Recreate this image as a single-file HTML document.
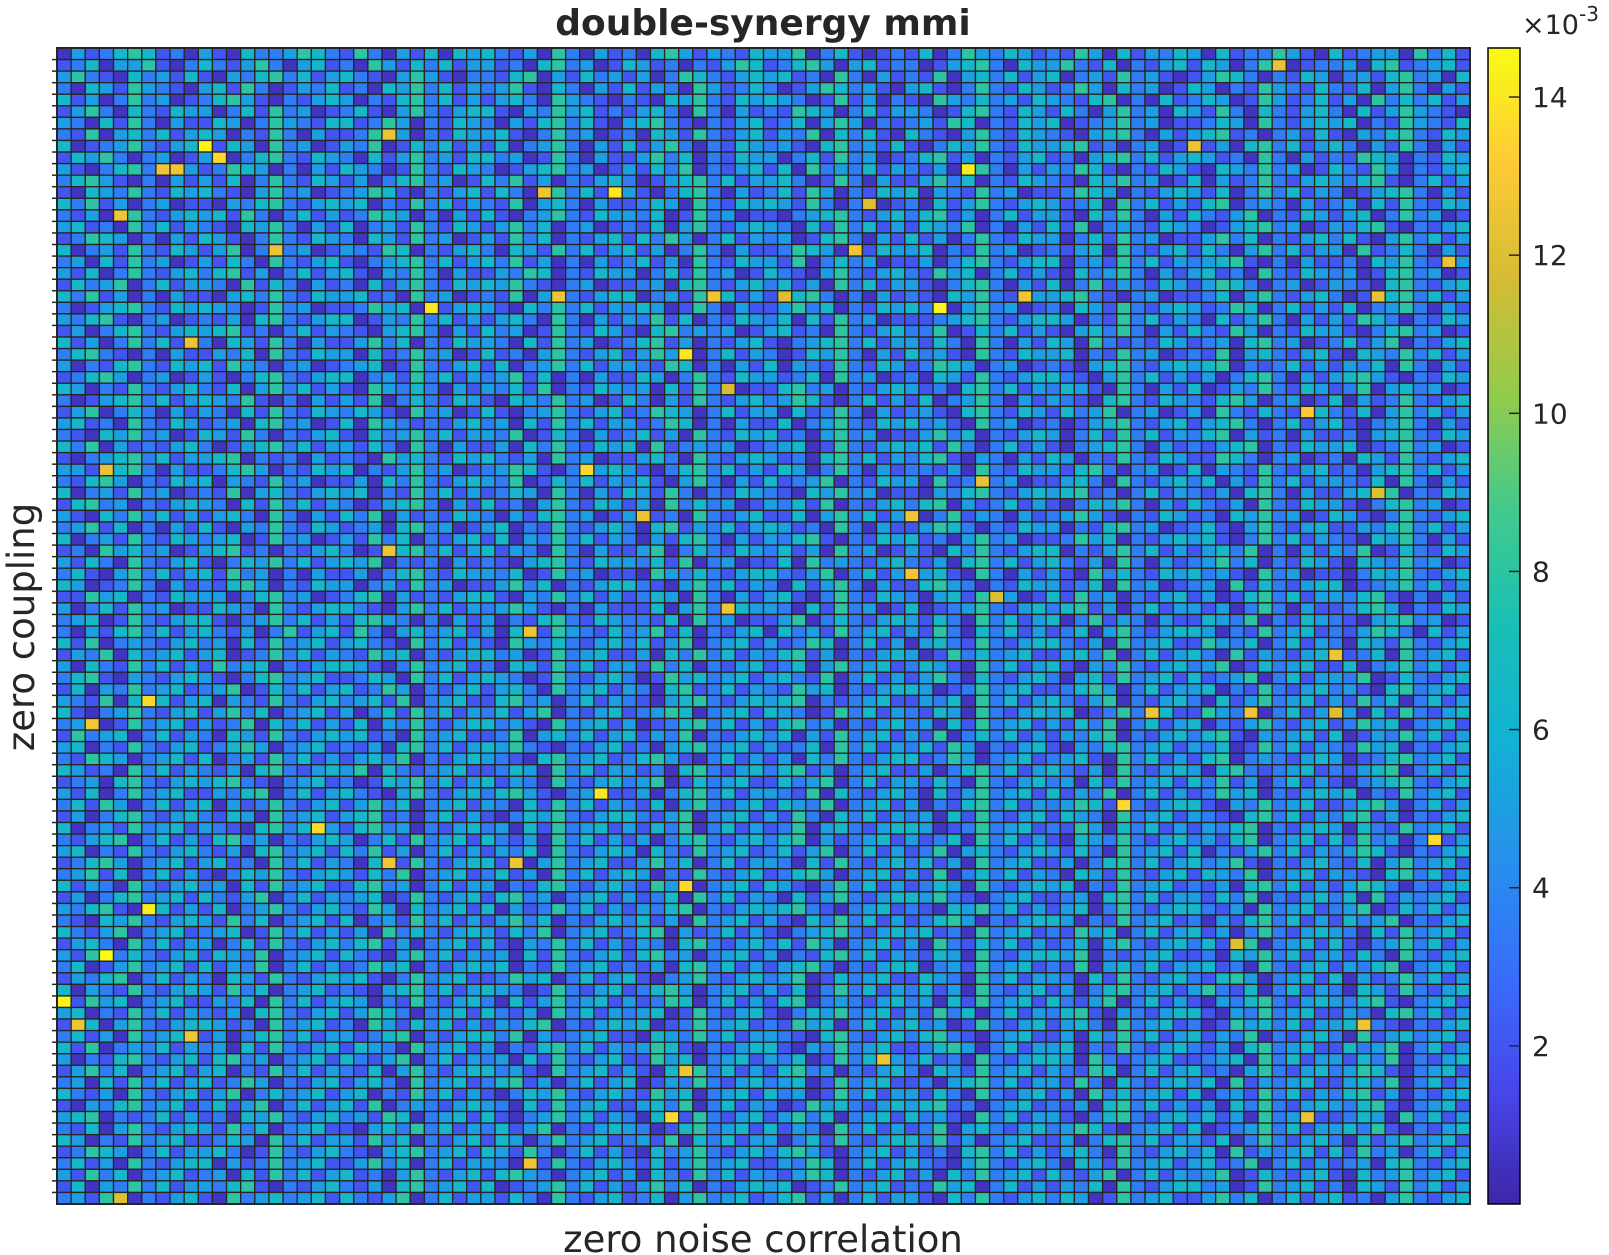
<!DOCTYPE html>
<html><head><meta charset="utf-8"><style>
html,body{margin:0;padding:0;background:#fff;}
svg{display:block;font-family:"DejaVu Sans","Liberation Sans",sans-serif;}
</style></head><body>
<svg id="chart" width="1609" height="1255" viewBox="0 0 1609 1255" xmlns="http://www.w3.org/2000/svg">
<defs><linearGradient id="parula" x1="0" y1="1" x2="0" y2="0"></linearGradient></defs>
<text x="763" y="35" text-anchor="middle" font-size="36" font-weight="bold" fill="#262626">double-synergy mmi</text>
<g id="cells"></g>
<g id="yticks"></g>
<text x="763" y="1252" text-anchor="middle" font-size="37" fill="#262626">zero noise correlation</text>
<text transform="translate(34,627) rotate(-90)" text-anchor="middle" font-size="37" fill="#262626">zero coupling</text>
<rect x="1488" y="48" width="32" height="1156" fill="url(#parula)" stroke="#000" stroke-width="1.5"/>
<g id="cbticks"></g>
<text x="1522" y="34" font-size="27" fill="#262626">×10<tspan dy="-13" font-size="20">-3</tspan></text>
</svg>
<script>
const rowsData = [
"0312454120 3104223542 1520314043 4213052031 2045313214 3350241012 1402532431 2153041324 3041225310 4123305241",
"1240335102 4213520341 2053142413 3120452301 4312021354 1245303412 2013452043 3521402134 1430253012 2304512341",
"3521042314 1032452413 4210353102 2145031423 1302542134 3412052031 2150342413 4023152310 1354202143 0231452304",
"2043153210 3415201324 1204352413 2351042031 4132053124 2013542310 3410252143 1253042301 4302153214 2140352031",
"4130252301 2453102134 3021452413 1342053210 2104352143 4320151302 1053242314 3214502041 2430153124 1305242413",
"1352042143 3024152301 2410352134 4103253412 1342052031 2154302413 3201452143 1420352304 3152042134 2041353210",
"3204152031 1430253214 4125302143 2031452410 3452102134 1240353021 2315402143 4012352301 1243052134 3402153214",
"2150342413 4302152031 1254302143 3410252301 2043152134 1325042410 4210352143 2103452031 3451202314 1032452143",
"4012352134 2143052301 3250142413 1402352031 4135202143 2310452314 1024352143 3451202301 2130452413 4203152031",
"1435202301 3102452143 2041352314 4230152031 1352402143 3024152301 2451302134 1203452413 4312052031 2154302143",
"3102452413 1254302031 4320152143 2013452301 3142502134 1405232413 2130452031 3254102143 1043252301 4215302134",
"2453102031 3140252143 1302452301 4251302134 2013452413 3420152031 1352402143 2104352301 4031252134 3245102413",
"1043252143 4210352301 2354102134 1420352413 3102452031 2415302143 4032152301 1254302134 3140252413 2013452031",
"4251302301 1032452134 3402152413 2150342031 1243052143 4315202301 2041352134 3124052413 1450232031 2304152143",
"2130452134 3415202413 1254302031 4102352143 3240152301 1023452134 2451302413 3104252031 4213502143 1340252301",
"3412052413 2104352031 4023152143 1352402301 2140352134 3204152413 1432502031 4150232143 2013452301 3245102134",
"1254302031 4310252143 2043152301 3152402134 1425302413 2301452031 4130252143 3024152301 1352402134 2410352413",
"4023152143 1350242301 3215402134 2043152413 4130252031 1254302143 3402152301 2134052134 1420352413 3051242031",
"2304152301 3142052134 1023452413 4251302031 2413052143 3150242301 1302452134 4023152413 2345102031 1204352143",
"3140252134 2451302413 4103252031 1325402143 3024152301 4210352134 2153402413 1042352031 3412052143 2301452301",
"1423502413 3205142031 2041352143 4352102301 1230452134 2413052413 3102452031 4025132143 1354202301 3210452134",
"4251302031 1034252143 3412052301 2150342134 4023152413 1345202031 2104352143 3452102301 1240352134 2013452413",
"2013452143 4320152301 1253402134 3104252413 2430152031 1352402143 4210352301 2043152134 3125402413 1402352031",
"3245102301 2130452134 4013252413 1342052031 3251402143 2404152301 1123452134 4302152413 2041352031 3154202143",
"1302452134 3451202413 2103452031 4230152143 1045232301 3412052134 2250142413 1034252031 4215302143 3102452301",
"4130252413 2043152031 1352402143 3204152301 2451302134 1023452413 3142052031 4305212143 1230452301 2413502134",
"2452102031 1324052143 3041252301 4120352134 1353202413 2014352031 4231052143 3402152301 2150342134 1043252413",
"3021452143 4153202301 2340152134 1402352413 3215402031 4032152143 1254302301 2103452134 3450212413 1324052031",
"1245302301 3102452134 4023152413 2351402031 1430252143 3124052301 2043152134 4210352413 1302452031 3453102143",
"4302152134 2140352413 1053242031 3241502143 2304152301 1452302134 3120452413 2431052031 4013252143 1250342301",
"2013452413 4325102031 3150242143 1043252301 4203152134 2354102413 1402352031 3210452143 2145302301 4031252134",
"1350242031 3204152143 2431052301 4102352134 1254302413 3041252031 2310452143 1423502301 3052142134 2140352413",
"3412052143 1230452301 4053212134 2304152413 3125402031 1402352143 4231052301 2013452134 1345202413 4102352031",
"2104352301 4315202134 1042352413 3250142031 2413052143 4120352301 1352402134 3024152413 2450312031 1203452143",
"4250312134 2013452413 3142052031 1304252143 4051232301 2340152134 3415202413 1023452031 2134502143 3401252301",
"1023452413 3450212031 2105342143 4213052301 1342052134 3120452413 2451032031 4302152143 1154202301 2043152134",
"3310452031 1245302143 4021352301 2354102134 3102452413 1430252031 2213052143 3145202301 4032152134 1203452413",
"2145302143 4032152301 1304252134 3250142413 2410352031 4123502143 3051242301 1342052134 2403152413 3214052031",
"4023152301 2150342134 3402152413 1243052031 4315202143 2104352301 1032452134 3451202413 2130452031 1342502143",
"1452302134 3204152413 2013452031 4120352143 1305242301 3241502134 2450312413 1024352031 4213052143 3102452301",
"3104252413 1342052031 4250312143 2031452301 3412052134 1140352413 4025132031 2353102143 1204352301 4310252134",
"2351402031 4103252143 1230452301 3402152134 2045132413 4312052031 1354202143 3021452301 2410352134 1132452413",
"4023152143 2340152301 3152402134 1403252413 2031452031 3245102143 4120352301 1253402134 3410252413 2104352031",
"1205342301 3451202134 2013452413 4132052031 1350242143 2413052301 3104252134 4021352413 1342502031 3250142143",
"3142052134 1024352413 4350212031 2103452143 3241502301 1405232134 2130452413 4213052031 2352402143 1043252301",
"2410352413 4152302031 1302452143 3240152301 1053242134 4213502413 2341052031 3105242143 4231052301 1024352134",
"4301252031 2145302143 3023152301 1352402134 4210352413 2041352031 1453202143 3124052301 2305142134 4012352413",
"1153402143 3302452301 2450312134 4103252413 1243052031 3410252143 2034152301 4152302134 1301452413 3245102031",
"3024152301 1432052134 4210352413 2353102031 1140352143 3204152301 4012352134 2451302413 3130252031 1245302143",
"2340152134 4102352413 1453202031 3021452143 2214052301 1350242134 3142052413 4025132031 1432502143 2103452301"
];
const rowsData2 = [
"2031452413 4213025134 1520342341 3042153214 2351402134 0423152341 3152042413 1240352134 4302152341 2135420413",
"4150232134 2304152341 3421052413 1053242134 2413502341 3125402413 0342152134 4213052341 1532402413 2043152134",
"1325042341 3401252413 2153402134 4230152341 1304252413 2451302134 3015242341 1342502413 4205132134 3124052341",
"3042152413 1523402134 4310252341 2043152413 3152402134 1240352341 2431052413 4103252134 2350142341 1402352413",
"2451032134 3102452341 1243052413 4320152134 2015342341 3421502413 1352042134 2034152341 4123502413 3250142134",
"1403252341 2350142413 4125302134 1342052341 3204512413 2153402134 4301252341 1245302413 3402152134 2310452341",
"3215042413 4032152134 2341502341 1452302413 2103452134 3450212341 1324052413 4213502134 2041352341 3152402413",
"4102352134 1352402341 3024152413 2413502134 1235402341 4320152413 2143052134 3401252341 1532402413 2304152134",
"2340152341 3125042413 1403252134 4231052341 3012452413 1452302134 2304152341 3142502413 4021352134 1253402341",
"1523402413 2043152134 3412052341 1250342413 4132502134 2403152341 3150242413 1324502134 2451032341 4013252413",
"3402152134 1245302341 2130452413 4352102134 1203452341 3124052413 2415302134 1032452341 3240152413 2153402134",
"2154302341 4023152413 1342502134 3210452341 2453102413 1304252134 4125302341 2341052413 1450232134 3012452341",
"4312052413 2130452134 3504212341 1243052413 3120452134 2451302341 1302452413 4213052134 3045212341 2134502413",
"1230452134 3452102341 2014352413 4132052134 2350142341 1423502413 3142052134 2304152341 4251302413 1023452134",
"3140252341 1324502413 4210352134 2453102341 1302452413 3215042134 2041352341 4132502413 1253402134 3402152341",
"2415302413 4031252134 1352402341 3204152413 2140352134 1432502341 3021452413 2354102134 4103252341 1245302413",
"1302452134 2143052341 3451202413 1024352134 4213502341 3152042413 2304152134 1432052341 3210452413 2451302134",
"4023152341 3210452413 1452302134 2304152341 3142502413 1250342134 4301252341 2153042413 1324502134 3042152341",
"2134502413 1452302134 3024152341 4213052413 1302452134 2450312341 3124052413 1043252134 2314502341 4152302413",
"3402152134 2130452341 4251302413 1324052134 3042152341 2413502413 1250342134 3142052341 4021352413 2354102134",
"1245302341 3412052413 2043152134 4120352341 1352402413 3204152134 2413052341 1302452413 4235102134 2140352341",
"2351402413 1024352134 3142502341 2413052413 4302152134 1245302341 3150242413 2043152134 1432502341 3210452413",
"4132052134 2304152341 1452302413 3021452134 2153402341 4310252413 1243052134 3402152341 2130452413 1354202134",
"1302452341 4213502413 2340152134 1452302341 3124052413 2041352134 4352102341 1230452413 3142502134 2405132341",
"3245102413 1402352134 2153042341 4031252413 1324502134 3452102341 2104352413 1340252134 4213052341 2350142413",
"2104352134 3152402341 4023152413 1352402134 2413052341 3104252413 1245302134 4302152341 2031452413 1423502134",
"4213502341 2340152413 1305242134 3142502341 2450312413 1023452134 3412052341 2153402413 4130252134 3204152341",
"1342052413 3024152134 2451302341 4103252413 1320452134 2415302341 3052142413 1240352134 2413502341 4102352413",
"3150242134 1432502341 4210352413 2304152134 1452302341 3021452413 2143052134 4350212341 1204352413 3142052134",
"2401352341 4132502413 1253402134 3402152341 2130452413 1345202134 4023152341 2150342413 3412052134 1324502341",
"1324502413 2043152134 3410252341 1253402413 4102352134 2350142341 1432052413 3204152134 2145302341 4031252413",
"4032152134 3152402341 2103452413 4320152134 1245302341 3140252413 2413052134 1302452341 3521402413 2043152134",
"2153402341 1324052413 4302152134 2041352341 3125402413 1450232134 2304152341 4213502413 1032452134 3245102341",
"3402152413 2130452134 1354202341 4213052413 2340152134 1024352341 3152402413 2451032134 4103252341 1320452413",
"1240352134 4312052341 2053142413 1324502134 3401252341 2153402413 4230152134 1342052341 2015342413 3452102134",
"2413052341 1302452413 3124502134 4250312341 1043252413 3210452134 2452102341 1304252413 4132502134 2051342341",
"4150232413 2304152134 1432052341 3021452413 2354102134 4103252341 1245302413 3402152134 2130452341 1423502413",
"3021452134 1452302341 4213502413 2304152134 1153402341 3240152413 2412052134 4305212341 1234052413 3142502134",
"1352402341 3402152413 2140352134 4231052341 3104252413 1452302134 2043152341 3215402413 4120352134 2354102341",
"2304152413 4125302134 1342052341 2451302413 4013252134 2340152341 1203452413 3152042134 2405132341 1342502413",
"4213052134 1350242341 3402152413 1024352134 2153402341 4230152413 3142052134 1305242341 4023152413 2451302134",
"1032452341 2413502413 4150232134 3204152341 1342502413 2015342134 3451202341 2130452413 1304252134 3245102341",
"3450212413 1204352134 2315402341 4102352413 2043152134 1352402341 4231052413 3102452134 2413052341 1243052413",
"2140352134 3152402341 1034252413 2413502134 3201452341 4132052413 1250342134 2354102341 4012352413 3425102134",
"4302152341 1243052413 3152402134 1430252341 2315042413 3024152134 4251302341 1302452413 3140252134 2041352341",
"1254302413 3420152134 2103452341 4315202413 1042352134 2453102341 3120452413 1342052134 2405132341 4152302413",
"2413052134 4031252341 1352402413 3204152134 2141352341 1325402413 4210352134 2043152341 3412502413 1230452134",
"3152402341 2304152413 4120352134 1453202341 3042152413 2135402134 1304252341 4213502413 2350142134 1042352341",
"1403252413 3245102134 2130452341 4012352413 1352402134 3401252341 2153402413 1324052134 4230152341 2043152413",
"2315402134 1052342341 4213502413 3142052134 1240352341 2451302413 3104252134 2430152341 1352402413 4120352134"
];
const levelValues = [0.6, 2.0, 3.5, 5.0, 6.5, 8.0, 9.5, 11.0, 12.5, 14.2];
const highlights = [
[8,10,14.4],[9,11,13.6],[10,8,12.6],[7,23,12.5],[10,7,12.6],[12,39,14.0],[12,34,12.6],[10,64,14.2],
[1,86,12.4],[8,80,12.4],[14,4,12.6],[13,57,12.0],[17,15,12.5],[17,56,12.6],[18,98,12.5],[21,35,12.6],
[22,26,14.0],[21,46,12.6],[21,51,12.0],[21,68,12.6],[22,62,14.5],[21,93,12.4],[25,9,12.5],[26,44,14.0],
[29,47,11.8],[31,88,13.2],[36,3,12.4],[36,37,13.6],[37,65,12.5],[40,41,12.5],[38,93,12.0],[40,60,12.6],
[43,23,12.6],[45,60,12.6],[47,66,12.0],[48,47,12.6],[50,33,12.6],[52,90,12.6],[56,6,13.6],[58,2,12.8],
[57,77,12.6],[57,84,12.6],[57,90,12.0],[64,38,14.0],[67,18,13.6],[65,75,13.6],[68,97,13.6],[70,23,12.6],
[70,32,12.6],[72,44,13.6],[74,6,14.2],[78,3,14.6],[82,0,14.4],[84,1,12.6],[85,9,12.6],[87,58,12.6],
[88,44,12.6],[92,43,13.6],[92,88,12.6],[96,33,12.6],[99,4,12.0],[84,92,12.6],[77,83,12.0]
];
const cbTicks = [2,4,6,8,10,12,14];

const NS="http://www.w3.org/2000/svg";
const X0=57, X1=1470, Y0=48, Y1=1204, VMIN=0, VMAX=14.62;
const stops=[[0,[62,38,168]],[0.1,[71,71,235]],[0.2,[55,110,252]],[0.3,[38,145,235]],[0.4,[18,177,214]],[0.5,[25,191,182]],[0.6,[66,202,140]],[0.7,[146,203,76]],[0.8,[212,188,52]],[0.9,[254,202,54]],[1,[249,251,21]]];
function parula(t){t=Math.max(0,Math.min(1,t));for(let i=1;i<stops.length;i++){if(t<=stops[i][0]){const a=stops[i-1],b=stops[i],f=(t-a[0])/(b[0]-a[0]);return "rgb("+a[1].map((c,k)=>Math.round(c+(b[1][k]-c)*f)).join(",")+")";}}return "rgb(249,251,21)";}
const allRows=rowsData.concat(rowsData2);
const grid=allRows.map(r=>{let s=r.replace(/\s/g,"");while(s.length<100)s+="3";return s.slice(0,100).split("").map(d=>levelValues[+d]);});
highlights.forEach(h=>{if(grid[h[0]])grid[h[0]][h[1]]=h[2];});
const nR=grid.length,nC=grid[0].length;
const xs=c=>X0+(X1-X0)*c/nC, ys=r=>Y0+(Y1-Y0)*r/nR;
const cScale=v=>(v-VMIN)/(VMAX-VMIN);
const gC=document.getElementById("cells");
for(let r=0;r<nR;r++)for(let c=0;c<nC;c++){
  const el=document.createElementNS(NS,"rect");
  
  
  el.setAttribute("x",xs(c));el.setAttribute("y",ys(r));
  el.setAttribute("width",xs(c+1)-xs(c));el.setAttribute("height",ys(r+1)-ys(r));
  el.setAttribute("fill",parula(cScale(grid[r][c])));
  el.setAttribute("stroke","#262626");el.setAttribute("stroke-width","1.3");
  gC.appendChild(el);
}
const frame=document.createElementNS(NS,"rect");


frame.setAttribute("x",X0);frame.setAttribute("y",Y0);frame.setAttribute("width",X1-X0);frame.setAttribute("height",Y1-Y0);
frame.setAttribute("fill","none");frame.setAttribute("stroke","#262626");frame.setAttribute("stroke-width","2");
gC.appendChild(frame);
const gY=document.getElementById("yticks");
for(let r=1;r<nR;r++){
  const t=document.createElementNS(NS,"line");
  
  
  t.setAttribute("x1",X0-5);t.setAttribute("x2",X0);t.setAttribute("y1",ys(r));t.setAttribute("y2",ys(r));
  t.setAttribute("stroke","#262626");t.setAttribute("stroke-width","1.5");gY.appendChild(t);
}
const grad=document.getElementById("parula");
stops.forEach(s=>{const st=document.createElementNS(NS,"stop");st.setAttribute("offset",s[0]);st.setAttribute("stop-color","rgb("+s[1].join(",")+")");grad.appendChild(st);});
const gT=document.getElementById("cbticks");
const cbY=v=>Y1-(Y1-Y0)*cScale(v);
cbTicks.forEach(v=>{
  const l=document.createElementNS(NS,"line");
  
  
  l.setAttribute("x1",1509);l.setAttribute("x2",1520);l.setAttribute("y1",cbY(v));l.setAttribute("y2",cbY(v));
  l.setAttribute("stroke","#262626");l.setAttribute("stroke-width","1.5");gT.appendChild(l);
  const tx=document.createElementNS(NS,"text");
  
  
  tx.setAttribute("x",1532);tx.setAttribute("y",cbY(v)+10);tx.setAttribute("font-size","28");tx.setAttribute("fill","#262626");
  tx.textContent=v;gT.appendChild(tx);
});
</script>
</body></html>
